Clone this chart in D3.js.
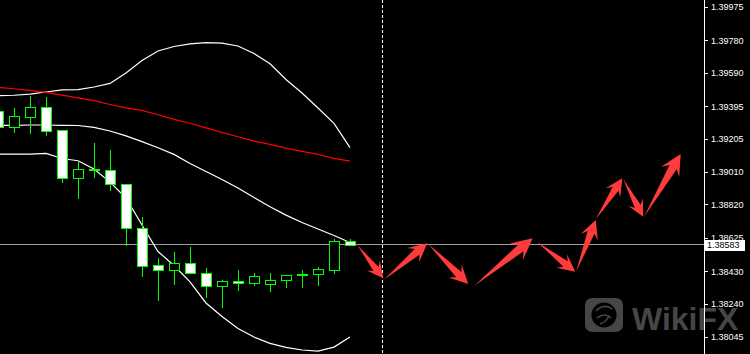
<!DOCTYPE html>
<html><head><meta charset="utf-8">
<script src="https://cdn.jsdelivr.net/npm/d3@7"></script>
<style>html,body{margin:0;padding:0;background:#000;overflow:hidden}</style>
</head><body><svg id="chart" width="750" height="354"></svg>
<script>
// ---- data (prices) ----
const tickValues = [1.39975, 1.39780, 1.39590, 1.39395, 1.39205, 1.39010, 1.38820, 1.38625, 1.38430, 1.38240, 1.38045];
const currentPrice = 1.38583;
const opens  = [1.39367,1.39275,1.39333,1.39390,1.39256,1.38977,1.39027,1.39022,1.38938,1.38681,1.38466,1.38435,1.38478,1.38418,1.38341,1.38371,1.38359,1.38353,1.38377,1.38406,1.38412,1.38439,1.38605];
const highs  = [1.39378,1.39384,1.39454,1.39449,1.39258,1.39070,1.39181,1.39139,1.38938,1.38745,1.38505,1.38542,1.38571,1.38447,1.38381,1.38437,1.38418,1.38418,1.38410,1.38437,1.38453,1.38618,1.38618];
const lows   = [1.39261,1.39244,1.39240,1.39226,1.38953,1.38860,1.38982,1.38906,1.38583,1.38403,1.38260,1.38357,1.38418,1.38277,1.38222,1.38320,1.38349,1.38316,1.38336,1.38339,1.38351,1.38418,1.38583];
const closes = [1.39273,1.39337,1.39390,1.39252,1.38977,1.39028,1.39020,1.38938,1.38681,1.38462,1.38435,1.38478,1.38418,1.38341,1.38372,1.38358,1.38400,1.38377,1.38406,1.38411,1.38443,1.38606,1.38583];
const bandUpper  = [1.39457,1.39459,1.39466,1.39478,1.39490,1.39492,1.39507,1.39528,1.39589,1.39662,1.39718,1.39744,1.39759,1.39767,1.39764,1.39747,1.39703,1.39643,1.39551,1.39472,1.39384,1.39294,1.39153];
const bandMiddle = [1.39282,1.39283,1.39285,1.39285,1.39283,1.39282,1.39271,1.39250,1.39221,1.39188,1.39152,1.39113,1.39060,1.39013,1.38966,1.38916,1.38861,1.38807,1.38758,1.38715,1.38677,1.38639,1.38598];
const bandLower  = [1.39115,1.39115,1.39115,1.39119,1.39089,1.39076,1.39028,1.38951,1.38858,1.38700,1.38545,1.38463,1.38367,1.38244,1.38165,1.38095,1.38045,1.38008,1.37984,1.37969,1.37963,1.37986,1.38045];
const movingAvg  = [1.39505,1.39497,1.39487,1.39476,1.39460,1.39443,1.39427,1.39405,1.39385,1.39370,1.39345,1.39318,1.39295,1.39268,1.39242,1.39216,1.39191,1.39172,1.39150,1.39131,1.39113,1.39090,1.39074];
const separatorBar = 24;
// forecast arrows: start/end bar position and price
const arrowStartBar   = [22.46,24.14,26.89,29.77,33.71,36.13,37.36,39.08,40.38];
const arrowStartPrice = [1.38583,1.38382,1.38589,1.38345,1.38601,1.38427,1.38733,1.38967,1.38749];
const arrowEndBar     = [24.08,26.83,29.39,33.42,36.08,37.36,39.02,40.33,42.67];
const arrowEndPrice   = [1.38388,1.38593,1.38355,1.38622,1.38427,1.38729,1.38973,1.38749,1.39115];

// ---- drawing ----
const W = 750, H = 354, axisX = 704;
const svg = d3.select("#chart");
svg.append("rect").attr("width", W).attr("height", H).attr("fill", "#000");

const x = d3.scaleLinear().domain([0, opens.length - 1]).range([-2, 350]);
const y = d3.scaleLinear().domain([1.38045, 1.39975]).range([337, 7]);

svg.append("clipPath").attr("id", "plotclip")
  .append("rect").attr("x", 0).attr("y", 0).attr("width", axisX).attr("height", H);

// watermark (under the axis, as in the reference)
const wm = svg.append("g").attr("opacity", 0.95);
wm.append("rect").attr("x", 585).attr("y", 298).attr("width", 38).attr("height", 34).attr("rx", 7).attr("fill", "#4a4a4a");
wm.append("circle").attr("cx", 604).attr("cy", 315).attr("r", 12.5).attr("fill", "#000");
wm.append("path").attr("d", "M596,311 Q604,303 612,309 M597,318 Q605,312 611,318 M600,324 Q606,322 609,316")
  .attr("fill", "none").attr("stroke", "#4a4a4a").attr("stroke-width", 1.6);
wm.append("text").attr("x", 632).attr("y", 330).text("WikiFX")
  .attr("font-family", "Liberation Sans, Arial, sans-serif").attr("font-weight", "bold")
  .attr("font-size", 32).attr("fill", "#4a4a4a");

const plot = svg.append("g").attr("clip-path", "url(#plotclip)");

// current price line
const pY = Math.round(y(currentPrice)) - 0.5;
plot.append("line").attr("x1", 0).attr("x2", axisX).attr("y1", pY).attr("y2", pY)
  .attr("stroke", "#98a0aa").attr("stroke-width", 1).attr("shape-rendering", "crispEdges");

// separator
const sx = Math.round(x(separatorBar)) + 0.5;
plot.append("line").attr("x1", sx).attr("x2", sx).attr("y1", 0).attr("y2", H)
  .attr("stroke", "#fff").attr("stroke-dasharray", "3,2").attr("shape-rendering", "crispEdges");

// indicator lines
const line = d3.line().x((d, i) => x(i)).y(d => y(d));
[[bandUpper, "#fff"], [bandMiddle, "#fff"], [bandLower, "#fff"], [movingAvg, "#ff0000"]].forEach(([arr, col]) => {
  plot.append("path").attr("d", line(arr)).attr("fill", "none").attr("stroke", col)
    .attr("stroke-width", 1.2);
});

// candles
const idx = d3.range(opens.length);
const cg = plot.append("g").attr("shape-rendering", "crispEdges");
cg.selectAll("line.wick").data(idx).join("line")
  .attr("x1", i => Math.round(x(i)) + 0.5).attr("x2", i => Math.round(x(i)) + 0.5)
  .attr("y1", i => Math.round(y(highs[i]))).attr("y2", i => Math.round(y(lows[i])) + 1)
  .attr("stroke", "#00ff00");
cg.selectAll("rect.body").data(idx).join("rect")
  .attr("x", i => Math.round(x(i)) - 4.5).attr("width", 10)
  .attr("y", i => Math.round(y(Math.max(opens[i], closes[i]))) + 0.5)
  .attr("height", i => Math.max(0, Math.round(y(Math.min(opens[i], closes[i]))) - Math.round(y(Math.max(opens[i], closes[i])))))
  .attr("fill", i => closes[i] < opens[i] ? "#fff" : "#000")
  .attr("stroke", "#00ff00");

// arrows
const arrowIdx = d3.range(arrowStartBar.length);
plot.selectAll("path.arrow").data(arrowIdx).join("path")
  .attr("fill", "#ff3b3b")
  .attr("d", i => {
    const x0 = x(arrowStartBar[i]), y0 = y(arrowStartPrice[i]);
    const x1 = x(arrowEndBar[i]), y1 = y(arrowEndPrice[i]);
    const dx = x1 - x0, dy = y1 - y0, L = Math.hypot(dx, dy);
    const ux = dx / L, uy = dy / L, nx = -uy, ny = ux;
    const hl = 0.15 * L + 10, hw = hl * 0.5, sw = hl * 0.2, notch = hl * 0.72;
    const P = (a, b) => [x0 + ux * a + nx * b, y0 + uy * a + ny * b];
    const pts = [P(0, 0), P(L - notch, sw), P(L - hl, hw), P(L, 0), P(L - hl, -hw), P(L - notch, -sw)];
    return "M" + pts.map(p => p.join(",")).join("L") + "Z";
  });

// price axis
svg.append("line").attr("x1", axisX + 0.5).attr("x2", axisX + 0.5).attr("y1", 0).attr("y2", H)
  .attr("stroke", "#fff").attr("shape-rendering", "crispEdges");
const axis = d3.axisRight(y).tickValues(tickValues).tickFormat(d3.format(".5f"))
  .tickSize(3).tickPadding(3.5).tickSizeOuter(0);
const ag = svg.append("g").attr("transform", `translate(${axisX + 0.5},0)`).call(axis);
ag.select(".domain").remove();
ag.selectAll(".tick line").attr("stroke", "#fff").attr("shape-rendering", "crispEdges");
ag.selectAll(".tick text").attr("fill", "#fff").attr("font-family", "Liberation Sans, Arial, sans-serif").attr("font-size", 9);

// current price label
const py = y(currentPrice);
svg.append("rect").attr("x", axisX + 1).attr("y", Math.round(py) - 5).attr("width", 40).attr("height", 11).attr("fill", "#fff");
svg.append("text").attr("x", axisX + 3).attr("y", py).attr("dy", "0.35em").text(d3.format(".5f")(currentPrice))
  .attr("fill", "#000").attr("font-family", "Liberation Sans, Arial, sans-serif").attr("font-size", 9);
</script></body></html>
